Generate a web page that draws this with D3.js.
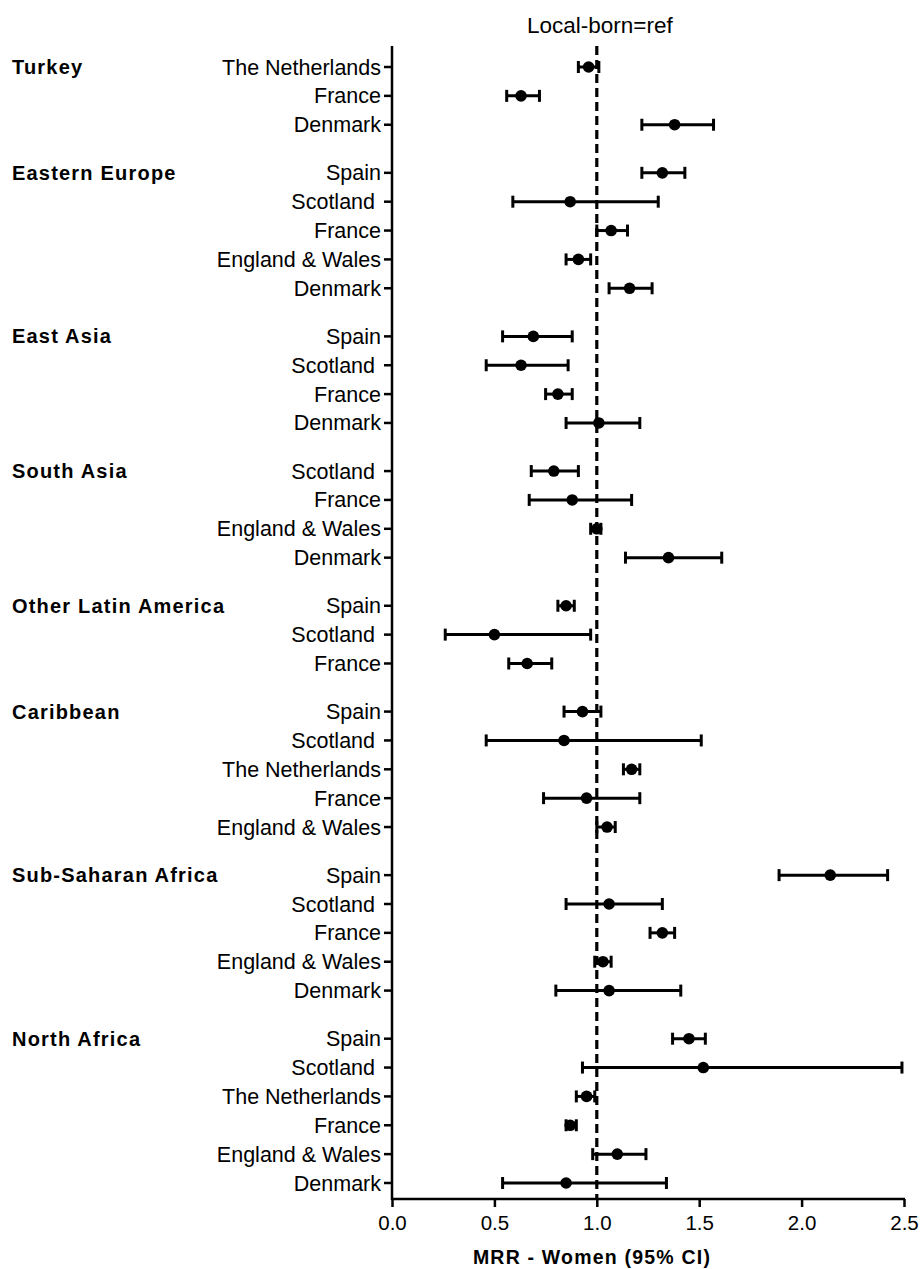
<!DOCTYPE html>
<html>
<head>
<meta charset="utf-8">
<script src="https://cdn.jsdelivr.net/npm/d3@7"></script>
<style>
  body { margin: 0; background: #fff; }
  text { font-family: Arial, "Liberation Sans", sans-serif; fill: #000; }
</style>
</head>
<body>
<svg id="chart" width="920" height="1269"></svg>
<script>
// region of birth (groups) and the countries plotted in each
const groupNames = ["Turkey", "Eastern Europe", "East Asia", "South Asia",
    "Other Latin America", "Caribbean", "Sub-Saharan Africa", "North Africa"];

const groupCountries = [
    ["The Netherlands", "France", "Denmark"],
    ["Spain", "Scotland ", "France", "England & Wales", "Denmark"],
    ["Spain", "Scotland ", "France", "Denmark"],
    ["Scotland ", "France", "England & Wales", "Denmark"],
    ["Spain", "Scotland ", "France"],
    ["Spain", "Scotland ", "The Netherlands", "France", "England & Wales"],
    ["Spain", "Scotland ", "France", "England & Wales", "Denmark"],
    ["Spain", "Scotland ", "The Netherlands", "France", "England & Wales", "Denmark"]
];

const mrr = [
    [0.96, 0.63, 1.38],
    [1.32, 0.87, 1.07, 0.91, 1.16],
    [0.69, 0.63, 0.81, 1.01],
    [0.79, 0.88, 1.00, 1.35],
    [0.85, 0.50, 0.66],
    [0.93, 0.84, 1.17, 0.95, 1.05],
    [2.14, 1.06, 1.32, 1.03, 1.06],
    [1.45, 1.52, 0.95, 0.87, 1.10, 0.85]
];

const ciLow = [
    [0.91, 0.56, 1.22],
    [1.22, 0.59, 1.00, 0.85, 1.06],
    [0.54, 0.46, 0.75, 0.85],
    [0.68, 0.67, 0.97, 1.14],
    [0.81, 0.26, 0.57],
    [0.84, 0.46, 1.13, 0.74, 1.00],
    [1.89, 0.85, 1.26, 0.99, 0.80],
    [1.37, 0.93, 0.90, 0.85, 0.98, 0.54]
];

const ciHigh = [
    [1.01, 0.72, 1.57],
    [1.43, 1.30, 1.15, 0.97, 1.27],
    [0.88, 0.86, 0.88, 1.21],
    [0.91, 1.17, 1.02, 1.61],
    [0.89, 0.97, 0.78],
    [1.02, 1.51, 1.21, 1.21, 1.09],
    [2.42, 1.32, 1.38, 1.07, 1.41],
    [1.53, 2.49, 0.99, 0.90, 1.24, 1.34]
];

const xTicks = [0, 0.5, 1.0, 1.5, 2.0, 2.5];
const refValue = 1.0;

const svg = d3.select("#chart");

// flatten rows, a group break takes 2/3 of a row
const gapRatio = 2 / 3;
let rows = [];
groupNames.forEach(function(g, gi) {
    groupCountries[gi].forEach(function(c, ci) {
        rows.push({
            group: g, country: c, first: ci === 0,
            slot: rows.length + gi * gapRatio,
            est: mrr[gi][ci], lo: ciLow[gi][ci], hi: ciHigh[gi][ci]
        });
    });
});
const lastSlot = rows[rows.length - 1].slot;

const x = d3.scaleLinear().domain([0, 2.5]).range([392, 904]);
const y = d3.scaleLinear().domain([0, lastSlot]).range([67, 1183]);

const axisTop = 46, axisBottom = 1199;

// x axis
const xAxis = svg.append("g")
    .attr("transform", `translate(0,${axisBottom})`)
    .call(d3.axisBottom(x).tickValues(xTicks).tickFormat(d3.format(".1f")).tickSize(8).tickSizeOuter(0));
xAxis.select(".domain").attr("stroke", "#000").attr("stroke-width", 2.5)
    .attr("d", `M${x(0) - 1},0H${x(2.5) + 1}`);
xAxis.selectAll(".tick line").attr("stroke", "#000").attr("stroke-width", 2.5);
xAxis.selectAll(".tick text")
    .attr("y", 16)
    .attr("font-size", 20.5)
    .attr("font-family", "Arial, 'Liberation Sans', sans-serif");

// y axis line + ticks
svg.append("line")
    .attr("x1", x(0)).attr("x2", x(0))
    .attr("y1", axisTop).attr("y2", axisBottom + 1)
    .attr("stroke", "#000").attr("stroke-width", 2.5);

svg.append("g").selectAll("line")
    .data(rows)
    .join("line")
    .attr("x1", x(0) - 8).attr("x2", x(0))
    .attr("y1", d => y(d.slot)).attr("y2", d => y(d.slot))
    .attr("stroke", "#000").attr("stroke-width", 2.5);

// country labels
svg.append("g").selectAll("text")
    .data(rows)
    .join("text")
    .attr("x", x(0) - 11)
    .attr("y", d => y(d.slot))
    .attr("dy", "0.35em")
    .attr("text-anchor", "end")
    .attr("font-size", 21.5)
    .style("white-space", "pre")
    .text(d => d.country);

// group labels, bold, on the first row of each group
svg.append("g").selectAll("text")
    .data(rows.filter(d => d.first))
    .join("text")
    .attr("x", 12)
    .attr("y", d => y(d.slot))
    .attr("dy", "0.35em")
    .attr("font-size", 20)
    .attr("font-weight", "bold")
    .attr("letter-spacing", 1.2)
    .text(d => d.group);

// reference line
svg.append("line")
    .attr("x1", x(refValue)).attr("x2", x(refValue))
    .attr("y1", axisTop).attr("y2", axisBottom)
    .attr("stroke", "#000").attr("stroke-width", 3.2)
    .attr("stroke-dasharray", "9,5");

svg.append("text")
    .attr("x", x(refValue) + 3)
    .attr("y", 33)
    .attr("text-anchor", "middle")
    .attr("font-size", 22.5)
    .text("Local-born=ref");

// error bars
const bars = svg.append("g").selectAll("g")
    .data(rows)
    .join("g");

bars.append("line")
    .attr("x1", d => x(d.lo)).attr("x2", d => x(d.hi))
    .attr("y1", d => y(d.slot)).attr("y2", d => y(d.slot))
    .attr("stroke", "#000").attr("stroke-width", 3);

bars.selectAll(".cap")
    .data(d => [{v: d.lo, s: d.slot}, {v: d.hi, s: d.slot}])
    .join("line")
    .attr("class", "cap")
    .attr("x1", c => x(c.v)).attr("x2", c => x(c.v))
    .attr("y1", c => y(c.s) - 6).attr("y2", c => y(c.s) + 6)
    .attr("stroke", "#000").attr("stroke-width", 3);

bars.append("circle")
    .attr("cx", d => x(d.est))
    .attr("cy", d => y(d.slot))
    .attr("r", 5.8)
    .attr("fill", "#000");

// x axis title
svg.append("text")
    .attr("x", 592)
    .attr("y", 1264)
    .attr("text-anchor", "middle")
    .attr("font-size", 19.5)
    .attr("font-weight", "bold")
    .attr("letter-spacing", 1.2)
    .text("MRR - Women (95% CI)");
</script>
</body>
</html>
